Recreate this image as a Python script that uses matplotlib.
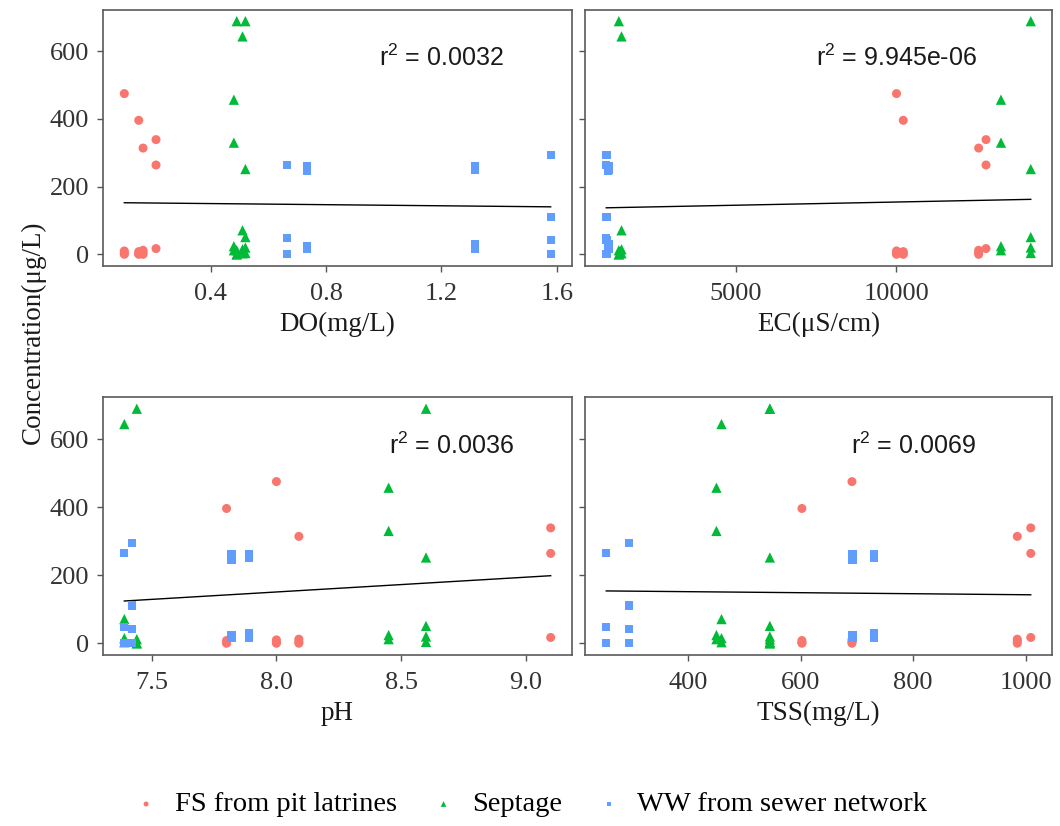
# scatter of concentration against water-quality parameters, with linear fits
import numpy as np
import matplotlib
matplotlib.use('Agg')
import matplotlib.pyplot as plt

plt.rcParams['font.family'] = ['Liberation Serif', 'DejaVu Serif']
plt.rcParams['mathtext.default'] = 'regular'

# FS from pit latrines (one entry per measured value)
fs_do = [0.10, 0.10, 0.10, 0.10, 0.15, 0.15, 0.15, 0.15, 0.165, 0.165, 0.165, 0.165, 0.21, 0.21, 0.21]
fs_ec = [10010, 10010, 10010, 10010, 10220, 10220, 10220, 10220, 12573, 12573, 12573, 12573, 12803, 12803, 12803]
fs_ph = [8.00, 8.00, 8.00, 8.00, 7.80, 7.80, 7.80, 7.80, 8.09, 8.09, 8.09, 8.09, 9.10, 9.10, 9.10]
fs_tss = [691, 691, 691, 691, 602, 602, 602, 602, 985, 985, 985, 985, 1009, 1009, 1009]
fs_conc = [475, 3, 10, 0, 396, 2, 0, 8, 314, 5, 12, 0, 339, 264, 17]

# Septage
sp_do = [0.49, 0.49, 0.49, 0.49, 0.51, 0.51, 0.51, 0.51, 0.48, 0.48, 0.48, 0.48, 0.52, 0.52, 0.52, 0.52, 0.52]
sp_ec = [1344, 1344, 1344, 1344, 1427, 1427, 1427, 1427, 13270, 13270, 13270, 13270,
         14200, 14200, 14200, 14200, 14200]
sp_ph = [7.44, 7.44, 7.44, 7.44, 7.39, 7.39, 7.39, 7.39, 8.45, 8.45, 8.45, 8.45, 8.60, 8.60, 8.60, 8.60, 8.60]
sp_tss = [545, 545, 545, 545, 459, 459, 459, 459, 450, 450, 450, 450, 545, 545, 545, 545, 545]
sp_conc = [689, 12, 0, 0, 644, 71, 15, 3, 457, 330, 24, 12, 689, 252, 51, 20, 4]

# WW from sewer network
ww_do = [0.663, 0.663, 0.663, 0.733, 0.733, 0.733, 0.733, 1.318, 1.318, 1.318, 1.318, 1.579, 1.579, 1.579, 1.579]
ww_ec = [950, 950, 950, 1000, 1000, 1000, 1000, 1020, 1020, 1020, 1020, 960, 960, 960, 960]
ww_ph = [7.39, 7.39, 7.39, 7.82, 7.82, 7.82, 7.82, 7.89, 7.89, 7.89, 7.89, 7.42, 7.42, 7.42, 7.42]
ww_tss = [254, 254, 254, 692, 692, 692, 692, 731, 731, 731, 731, 294, 294, 294, 294]
ww_conc = [264, 47, 0, 262, 245, 25, 15, 262, 250, 30, 15, 294, 111, 42, 0]

groups = ['FS from pit latrines', 'Septage', 'WW from sewer network']
colors = ['#F8766D', '#00BA38', '#619CFF']
markers = ['o', '^', 's']
sizes = [42, 55, 34]

panels = [
    ('DO(mg/L)', [fs_do, sp_do, ww_do], [0.4, 0.8, 1.2, 1.6], ['0.4', '0.8', '1.2', '1.6'], '0.0032'),
    ('EC(\u03bcS/cm)', [fs_ec, sp_ec, ww_ec], [5000, 10000], ['5000', '10000'], '9.945e-06'),
    ('pH', [fs_ph, sp_ph, ww_ph], [7.5, 8.0, 8.5, 9.0], ['7.5', '8.0', '8.5', '9.0'], '0.0036'),
    ('TSS(mg/L)', [fs_tss, sp_tss, ww_tss], [400, 600, 800, 1000], ['400', '600', '800', '1000'], '0.0069'),
]
concs = [fs_conc, sp_conc, ww_conc]
r2_xpos = [1.2, 10000, 8.7, 800]

W, H = 1060, 826
fig = plt.figure(figsize=(W / 100, H / 100), dpi=100)

# panel boxes in pixels: left, top, right, bottom
boxes = [(103, 9.5, 572, 266), (585, 9.5, 1052, 266),
         (103, 397, 572, 655), (585, 397, 1052, 655)]

handles = []
for i, (xlabel, xs, ticks, ticklabels, r2) in enumerate(panels):
    l, t, r, b = boxes[i]
    ax = fig.add_axes([l / W, 1 - b / H, (r - l) / W, (b - t) / H])

    for g in range(3):
        h = ax.scatter(xs[g], concs[g], s=sizes[g], c=colors[g], marker=markers[g],
                       edgecolors='none', label=groups[g], zorder=3)
        if i == 0:
            handles.append(h)

    # linear fit through all points
    x_all = np.concatenate([np.asarray(v, float) for v in xs])
    y_all = np.concatenate([np.asarray(v, float) for v in concs])
    k, c0 = np.polyfit(x_all, y_all, 1)
    xx = np.linspace(x_all.min(), x_all.max(), 80)
    ax.plot(xx, k * xx + c0, color='black', lw=1.0, zorder=2)

    ax.margins(x=0.05, y=0.05)
    ax.set_ylim(-34.5, 723.5)
    ax.set_xticks(ticks)
    ax.set_xticklabels(ticklabels)
    ax.set_yticks([0, 200, 400, 600])
    if i % 2 == 0:
        ax.set_yticklabels(['0', '200', '400', '600'])
    else:
        ax.set_yticklabels([])
    ax.tick_params(labelsize=19, colors='#333333', length=4, width=1, pad=6)
    ax.tick_params(axis='x', pad=8)
    ax.tick_params(axis='both', color='#555555')
    for sp in ax.spines.values():
        sp.set_color('#5a5a5a')
        sp.set_linewidth(1.2)
    ax.set_xlabel(xlabel, fontsize=19.5, color='#1a1a1a', labelpad=5)

    ax.text(r2_xpos[i], 580, '$r^2$ = ' + r2, family=['Liberation Sans', 'DejaVu Sans'],
            fontsize=18, ha='center', va='center', color='#1a1a1a')

fig.text(0.031, 1 - 332 / H, 'Concentration(\u03bcg/L)', rotation=90, fontsize=19.5,
         ha='center', va='center', color='#1a1a1a')

fig.legend(handles=handles, labels=groups, loc='center', bbox_to_anchor=(0.497, 0.026),
           ncol=3, frameon=False, fontsize=20.5, markerscale=0.55, handletextpad=0.3,
           columnspacing=0.95, handlelength=1.4)

fig.savefig('out.png', dpi=100)
